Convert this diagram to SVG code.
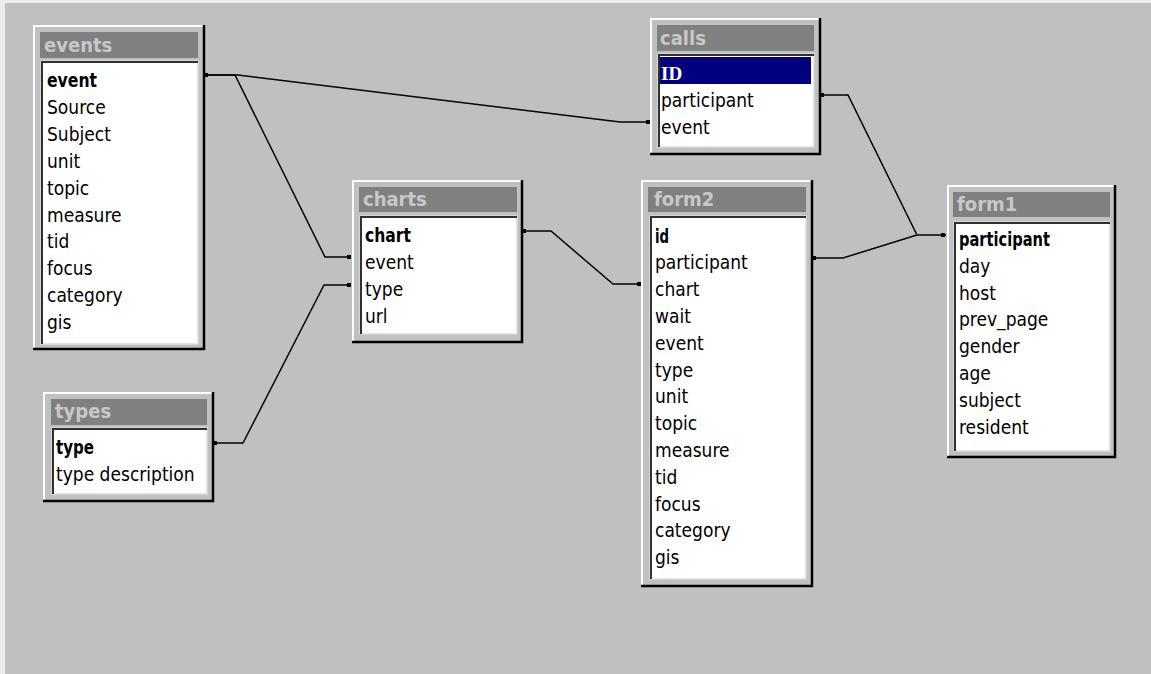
<svg xmlns="http://www.w3.org/2000/svg" width="1151" height="674" viewBox="0 0 1151 674">
<style>
.face{fill:#c0c0c0}
.hi{fill:none;stroke:#ffffff;stroke-width:2}
.sh{fill:none;stroke:#000000;stroke-width:2.5}
.tb{fill:#808080}
.lst{fill:#ffffff;stroke:#dcdcdc;stroke-width:1.5}
.lb{fill:none;stroke:#303030;stroke-width:2}
.tt{font-family:"DejaVu Sans Condensed","DejaVu Sans",sans-serif;font-stretch:condensed;font-weight:bold;font-size:20px;fill:#c8c8c8}
.f{font-family:"DejaVu Sans Condensed","DejaVu Sans",sans-serif;font-stretch:condensed;font-size:19px;fill:#000}
.b{font-weight:bold}
.con{fill:none;stroke:#000;stroke-width:1.5}
.dot{fill:#000}
</style>
<rect x="0" y="0" width="1151" height="674" fill="#ececec"/>
<rect x="5" y="3" width="1146" height="671" fill="#c0c0c0"/>

<g id="connectors">
<polyline class="con" points="205,75 238,75 620,122 649,122"/>
<polyline class="con" points="205,75 235,75 325,257 351,257"/>
<polyline class="con" points="214,443 243,443 324,285 351,285"/>
<polyline class="con" points="523,231 551,231 613,284 641,284"/>
<polyline class="con" points="821,95 848,95 917,235 946,235"/>
<polyline class="con" points="813,258 843,258 917,235"/>
<rect class="dot" x="204" y="73" width="4" height="4"/>
<rect class="dot" x="646" y="120" width="4" height="4"/>
<rect class="dot" x="347" y="255" width="4" height="4"/>
<rect class="dot" x="347" y="283" width="4" height="4"/>
<rect class="dot" x="213" y="441" width="4" height="4"/>
<rect class="dot" x="522" y="229" width="4" height="4"/>
<rect class="dot" x="637" y="282" width="4" height="4"/>
<rect class="dot" x="820" y="93" width="4" height="4"/>
<rect class="dot" x="941" y="233" width="4" height="4"/>
<rect class="dot" x="812" y="256" width="4" height="4"/>
</g>

<g id="events">
<rect class="face" x="33" y="25" width="172" height="325"/>
<path class="hi" d="M34,349 V26 H204"/>
<path class="sh" d="M204,25 V349 H33"/>
<rect class="tb" x="40" y="32" width="158" height="26"/>
<text class="tt" x="44" y="52">events</text>
<rect class="lst" x="41" y="61" width="157" height="283"/>
<path class="lb" d="M42,344 V62 H198"/>
<text class="f b" x="47" y="87" textLength="50" lengthAdjust="spacingAndGlyphs">event</text>
<text class="f" x="47" y="113.9">Source</text>
<text class="f" x="47" y="140.8">Subject</text>
<text class="f" x="47" y="167.7">unit</text>
<text class="f" x="47" y="194.6">topic</text>
<text class="f" x="47" y="221.5">measure</text>
<text class="f" x="47" y="248.4">tid</text>
<text class="f" x="47" y="275.3">focus</text>
<text class="f" x="47" y="302.2">category</text>
<text class="f" x="47" y="329.1">gis</text>
</g>

<g id="calls">
<rect class="face" x="650" y="18" width="171" height="137"/>
<path class="hi" d="M651,154 V19 H820"/>
<path class="sh" d="M820,18 V154 H650"/>
<rect class="tb" x="657" y="25" width="157" height="26"/>
<text class="tt" x="660" y="45">calls</text>
<rect class="lst" x="658" y="54" width="156" height="93"/>
<path class="lb" d="M659,147 V55 H814"/>
<rect x="660" y="57" width="151" height="27" fill="#000080"/>
<text x="661" y="80" font-family="'Liberation Serif',serif" font-weight="bold" font-size="19" fill="#ffffff">ID</text>
<text class="f" x="661" y="107">participant</text>
<text class="f" x="661" y="133.8">event</text>
</g>

<g id="charts">
<rect class="face" x="352" y="180" width="171" height="163"/>
<path class="hi" d="M353,342 V181 H522"/>
<path class="sh" d="M522,180 V342 H352"/>
<rect class="tb" x="359" y="187" width="158" height="25"/>
<text class="tt" x="363" y="206">charts</text>
<rect class="lst" x="360" y="216" width="157" height="118"/>
<path class="lb" d="M361,334 V217 H517"/>
<text class="f b" x="365" y="242.2" textLength="46" lengthAdjust="spacingAndGlyphs">chart</text>
<text class="f" x="365" y="269">event</text>
<text class="f" x="365" y="295.8">type</text>
<text class="f" x="365" y="322.6">url</text>
</g>

<g id="form2">
<rect class="face" x="641" y="180" width="172" height="407"/>
<path class="hi" d="M642,586 V181 H812"/>
<path class="sh" d="M812,180 V586 H641"/>
<rect class="tb" x="648" y="187" width="158" height="25"/>
<text class="tt" x="654" y="206">form2</text>
<rect class="lst" x="650" y="216" width="156" height="363"/>
<path class="lb" d="M651,579 V217 H806"/>
<text class="f b" x="655" y="242.5" textLength="14" lengthAdjust="spacingAndGlyphs">id</text>
<text class="f" x="655" y="269.3">participant</text>
<text class="f" x="655" y="296.1">chart</text>
<text class="f" x="655" y="322.9">wait</text>
<text class="f" x="655" y="349.7">event</text>
<text class="f" x="655" y="376.5">type</text>
<text class="f" x="655" y="403.3">unit</text>
<text class="f" x="655" y="430.1">topic</text>
<text class="f" x="655" y="456.9">measure</text>
<text class="f" x="655" y="483.7">tid</text>
<text class="f" x="655" y="510.5">focus</text>
<text class="f" x="655" y="537.3">category</text>
<text class="f" x="655" y="564.1">gis</text>
</g>

<g id="form1">
<rect class="face" x="947" y="185" width="169" height="273"/>
<path class="hi" d="M948,457 V186 H1115"/>
<path class="sh" d="M1115,185 V457 H947"/>
<rect class="tb" x="953" y="192" width="157" height="25"/>
<text class="tt" x="957" y="211">form1</text>
<rect class="lst" x="954" y="222" width="156" height="229"/>
<path class="lb" d="M955,451 V223 H1110"/>
<text class="f b" x="959" y="246" textLength="91" lengthAdjust="spacingAndGlyphs">participant</text>
<text class="f" x="959" y="272.8">day</text>
<text class="f" x="959" y="299.6">host</text>
<text class="f" x="959" y="326.4">prev_page</text>
<text class="f" x="959" y="353.2">gender</text>
<text class="f" x="959" y="380">age</text>
<text class="f" x="959" y="406.8">subject</text>
<text class="f" x="959" y="433.6">resident</text>
</g>

<g id="types">
<rect class="face" x="43" y="392" width="171" height="110"/>
<path class="hi" d="M44,501 V393 H213"/>
<path class="sh" d="M213,392 V501 H43"/>
<rect class="tb" x="51" y="399" width="156" height="26"/>
<text class="tt" x="55" y="418">types</text>
<rect class="lst" x="52" y="428" width="155" height="66"/>
<path class="lb" d="M53,494 V429 H207"/>
<text class="f b" x="56" y="454" textLength="38" lengthAdjust="spacingAndGlyphs">type</text>
<text class="f" x="56" y="480.5">type description</text>
</g>
</svg>
